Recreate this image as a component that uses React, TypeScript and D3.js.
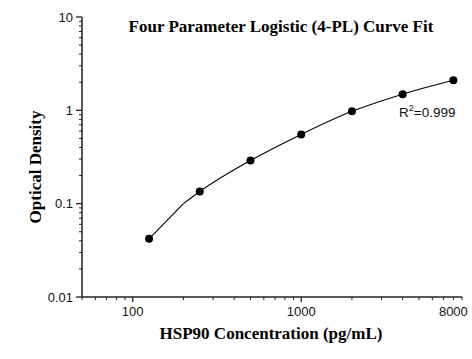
import React from "react";
import * as d3 from "d3";

const concentrations = [125, 250, 500, 1000, 2000, 4000, 8000];
const odValues = [0.042, 0.135, 0.29, 0.552, 0.975, 1.49, 2.1];
const curveConc = [125, 200, 250, 500, 1000, 2000, 4000, 8000];
const curveOd = [0.042, 0.1, 0.135, 0.29, 0.552, 0.975, 1.49, 2.1];
const xTickLabels = [100, 1000, 8000];
const yTickLabels = ["0.01", "0.1", "1", "10"];
const title = "Four Parameter Logistic (4-PL) Curve Fit";
const xTitle = "HSP90 Concentration (pg/mL)";
const yTitle = "Optical Density";
const r2Text = "0.999";

const W = 472;
const H = 359;

export default function App() {
  const x = d3.scaleLog().domain([50, 9000]).range([82, 462]);
  const y = d3.scaleLog().domain([0.01, 10]).range([297, 17]);

  const xMinor: number[] = [];
  for (const dec of [10, 100, 1000]) {
    for (let k = 1; k <= 9; k++) {
      const v = dec * k;
      if (v >= 50 && v <= 9000) xMinor.push(v);
    }
  }
  const yMinor: number[] = [];
  for (const dec of [0.01, 0.1, 1]) {
    for (let k = 2; k <= 9; k++) yMinor.push(dec * k);
  }
  const yMajor = yTickLabels.map(Number);

  const lineLin = d3
    .line<number>()
    .x((d) => x(curveConc[d]))
    .y((d) => y(curveOd[d]));
  const lineSmooth = d3
    .line<number>()
    .x((d) => x(curveConc[d]))
    .y((d) => y(curveOd[d]))
    .curve(d3.curveMonotoneX);

  const tickFont = "Arial, 'Liberation Sans', sans-serif";
  const serif = "'Times New Roman', 'Liberation Serif', serif";

  return (
    <svg width={W} height={H} style={{ position: "absolute", left: 0, top: 0 }}>
      <rect width={W} height={H} fill="#fff" />
      <text x={281} y={32} textAnchor="middle" fontFamily={serif} fontWeight="bold" fontSize={17} fill="#000">
        {title}
      </text>
      {/* axes */}
      <line x1={82} x2={82} y1={y(10)} y2={297} stroke="#222" strokeWidth={1.5} />
      <line x1={82} x2={x(9000)} y1={297} y2={297} stroke="#222" strokeWidth={1.5} />
      {yMajor.map((v) => (
        <line key={"ym" + v} x1={76} x2={82} y1={y(v)} y2={y(v)} stroke="#222" strokeWidth={1.3} />
      ))}
      {yMinor.map((v, i) => (
        <line key={"yn" + i} x1={79} x2={82} y1={y(v)} y2={y(v)} stroke="#222" strokeWidth={1} />
      ))}
      {yTickLabels.map((t) => (
        <text key={"yl" + t} x={73} y={y(Number(t)) + 4.5} textAnchor="end" fontFamily={tickFont} fontSize={13} fill="#111">
          {t}
        </text>
      ))}
      {xMinor.map((v, i) => {
        const major = v === 100 || v === 1000;
        return (
          <line key={"xn" + i} x1={x(v)} x2={x(v)} y1={297} y2={major ? 302 : 300} stroke="#222" strokeWidth={major ? 1.3 : 1} />
        );
      })}
      {xTickLabels.map((t) => (
        <text key={"xl" + t} x={x(t)} y={316} textAnchor="middle" fontFamily={tickFont} fontSize={13} fill="#111">
          {t}
        </text>
      ))}
      <text x={271} y={339} textAnchor="middle" fontFamily={serif} fontWeight="bold" fontSize={17} fill="#000">
        {xTitle}
      </text>
      <text
        transform={`translate(41,167) rotate(-90)`}
        textAnchor="middle"
        fontFamily={serif}
        fontWeight="bold"
        fontSize={17}
        fill="#000"
      >
        {yTitle}
      </text>
      {/* curve */}
      <path d={lineLin([0, 1]) || ""} fill="none" stroke="#000" strokeWidth={1.1} />
      <path d={lineSmooth(d3.range(1, curveConc.length)) || ""} fill="none" stroke="#000" strokeWidth={1.1} />
      {concentrations.map((c, i) => (
        <circle key={"p" + i} cx={x(c)} cy={y(odValues[i])} r={4} fill="#000" />
      ))}
      <text x={399} y={117} fontFamily={tickFont} fontSize={13.5} fill="#111">
        R<tspan dy={-6} fontSize={9}>2</tspan>
        <tspan dy={6}>={r2Text}</tspan>
      </text>
    </svg>
  );
}
